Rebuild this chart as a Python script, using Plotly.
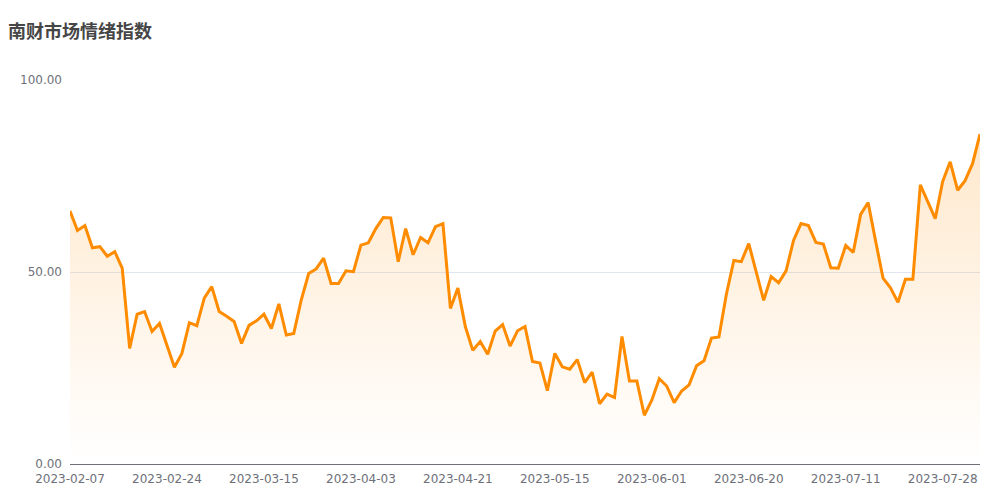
import pandas as pd
import plotly.graph_objects as go

# ---- data ----
start_date = "2023-02-07"
end_date = "2023-08-04"
holidays = ["2023-04-05", "2023-05-01", "2023-05-02", "2023-05-03",
            "2023-06-22", "2023-06-23"]
dates = [d.strftime("%Y-%m-%d") for d in pd.bdate_range(start_date, end_date)
         if d.strftime("%Y-%m-%d") not in holidays]

values = [
    65.9, 60.8, 62.1, 56.3, 56.6, 54.1, 55.3, 51.0, 30.1, 39.0,
    39.7, 34.5, 36.6, 30.8, 25.2, 28.8, 36.8, 36.0, 43.2, 46.2,
    39.7, 38.5, 37.1, 31.4, 36.1, 37.3, 39.0, 35.3, 41.7, 33.6,
    34.0, 42.7, 49.6, 50.8, 53.6, 47.0, 47.0, 50.3, 50.1, 57.0,
    57.6, 61.3, 64.2, 64.1, 52.7, 61.3, 54.5, 59.0, 57.6, 61.8,
    62.6, 40.5, 45.8, 35.8, 29.6, 31.9, 28.6, 34.6, 36.3, 30.7,
    34.7, 35.8, 26.7, 26.3, 19.1, 28.8, 25.3, 24.7, 27.2, 21.2,
    23.9, 15.7, 18.2, 17.3, 33.2, 21.6, 21.6, 12.7, 16.6, 22.2,
    20.3, 16.0, 19.0, 20.6, 25.6, 26.9, 32.8, 33.1, 44.2, 53.0,
    52.7, 57.4, 50.2, 42.6, 48.8, 47.2, 50.3, 58.2, 62.6, 62.1,
    57.7, 57.3, 51.1, 51.0, 56.9, 55.1, 65.0, 68.1, 58.1, 48.4,
    45.9, 42.1, 48.1, 48.1, 72.7, 68.3, 63.9, 73.6, 78.7, 71.3,
    73.8, 78.2, 85.9,
]

title_text = "南财市场情绪指数"
tick_step = 13

fig = go.Figure()
fig.add_trace(go.Scatter(
    x=dates, y=values, mode="lines",
    line=dict(color="#FF8C00", width=3),
    fill="tozeroy",
    fillgradient=dict(
        type="vertical",
        colorscale=[[0, "rgba(255,140,0,0.0)"], [1, "rgba(255,140,0,0.2)"]],
        start=0, stop=max(values),
    ),
    hoverinfo="skip",
))

tickvals = dates[::tick_step]

fig.update_layout(
    width=1000, height=500,
    margin=dict(l=62, r=28, t=72, b=44),
    plot_bgcolor="white", paper_bgcolor="white",
    showlegend=False,
    title=dict(
        text="<b>" + title_text + "</b>",
        x=0, xanchor="left", y=1 - 24 / 500, yanchor="middle",
        font=dict(size=18, family="Noto Sans CJK SC, DejaVu Sans", color="#464646"),
    ),
    font=dict(family="DejaVu Sans", size=12, color="#6E7079"),
)
fig.update_xaxes(
    type="category",
    range=[0, len(dates) - 1],
    tickmode="array", tickvals=tickvals, ticktext=tickvals,
    showgrid=False, zeroline=False,
    showline=True, linecolor="#6E7079", linewidth=1,
    ticks="", ticklabelstandoff=4,
    tickfont=dict(size=12, color="#6E7079"),
)
fig.update_yaxes(
    range=[0, 100],
    tickvals=[0, 50, 100], tickformat=".2f",
    showgrid=True, gridcolor="#E0E6F1", gridwidth=1,
    zeroline=False, showline=False, ticks="",
    ticklabelstandoff=7,
    tickfont=dict(size=12, color="#6E7079"),
)

fig.write_html("out.html")
